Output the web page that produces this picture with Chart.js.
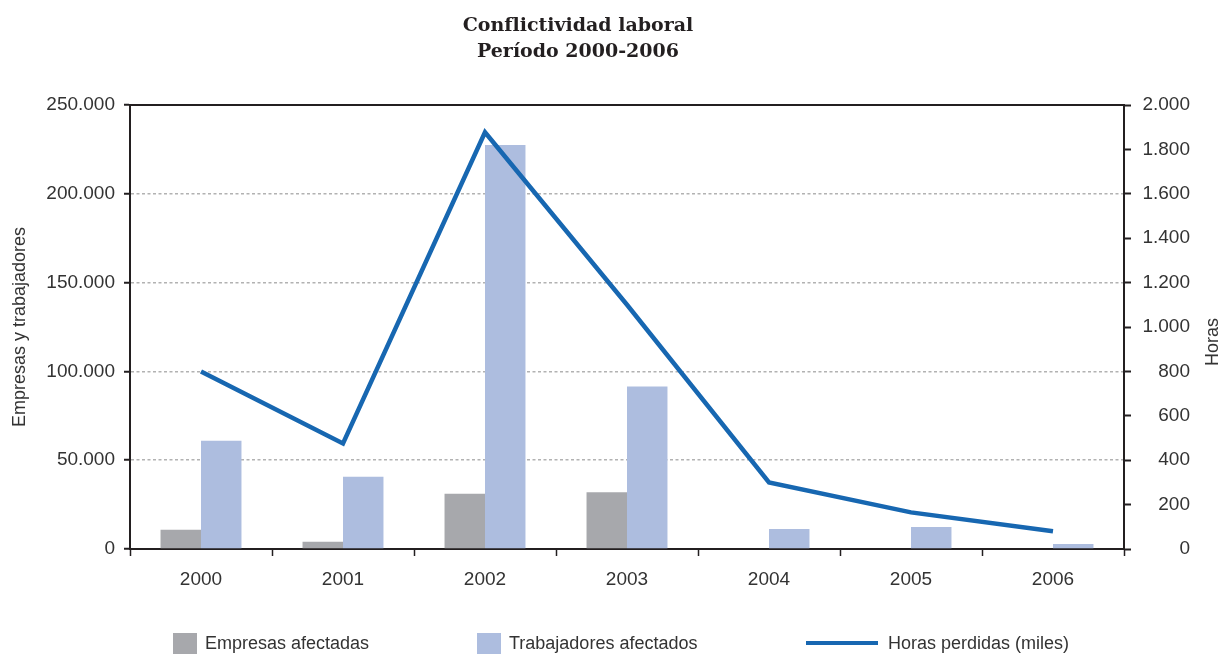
<!DOCTYPE html>
<html lang="es">
<head>
<meta charset="utf-8">
<title>Conflictividad laboral</title>
<script src="https://cdn.jsdelivr.net/npm/chart.js@4.4.1/dist/chart.umd.min.js"></script>
<style>
  html, body { margin: 0; padding: 0; background: #fff; }
  #wrap { width: 1225px; height: 654px; }
</style>
</head>
<body>
<div id="wrap"><canvas id="conflictChart" width="1225" height="654"></canvas></div>
<script>
// --- datos del gráfico ---
const YEARS = ['2000', '2001', '2002', '2003', '2004', '2005', '2006'];
const EMPRESAS = [10900, 4100, 31100, 31900, 0, 0, 0];
const TRABAJADORES = [61000, 40700, 227500, 91500, 11300, 12400, 2800];
const HORAS = [800, 475, 1877, 1100, 300, 165, 80];

const LEFT_TICKS = [0, 50000, 100000, 150000, 200000, 250000];
const RIGHT_TICKS = [0, 200, 400, 600, 800, 1000, 1200, 1400, 1600, 1800, 2000];

const TITLE_LINES = ['Conflictividad laboral', 'Período 2000-2006'];
const LEFT_TITLE = 'Empresas y trabajadores';
const RIGHT_TITLE = 'Horas';

// --- estilos ---
const AXIS_COLOR = '#231f20';
const TEXT_COLOR = '#333333';
const GRID_COLOR = '#b2b2b2';
const GRAY_BAR = '#a7a8ac';
const BLUE_BAR = '#adbddf';
const LINE_BLUE = '#1767b1';
const SANS = '"Liberation Sans", Arial, sans-serif';

function formatThousands(v) {
    return String(v).replace(/\B(?=(\d{3})+(?!\d))/g, '.');
}

// --- título, borde superior, título derecho y leyenda ---
const decorPlugin = {
    id: 'decor',
    afterDraw(chart) {
        const ctx = chart.ctx;
        const area = chart.chartArea;
        ctx.save();

        ctx.strokeStyle = AXIS_COLOR;
        ctx.lineWidth = 2;
        ctx.beginPath();
        ctx.moveTo(area.left - 1, area.top);
        ctx.lineTo(area.right + 1, area.top);
        ctx.stroke();

        ctx.fillStyle = AXIS_COLOR;
        ctx.font = 'bold 19px "DejaVu Serif", serif';
        ctx.textAlign = 'center';
        ctx.textBaseline = 'alphabetic';
        TITLE_LINES.forEach((t, i) => ctx.fillText(t, 578, 31 + i * 26));

        ctx.save();
        ctx.translate(1213, 342);
        ctx.rotate(-Math.PI / 2);
        ctx.fillStyle = TEXT_COLOR;
        ctx.font = '18px ' + SANS;
        ctx.textBaseline = 'middle';
        ctx.fillText(RIGHT_TITLE, 0, 0);
        ctx.restore();

        // leyenda
        const legendX = [173, 477, 806];
        const legendY = 644;
        ctx.font = '18px ' + SANS;
        ctx.textAlign = 'left';
        ctx.textBaseline = 'middle';
        chart.data.datasets.forEach((ds, i) => {
            const x = legendX[i];
            let textX;
            if (ds.type === 'line') {
                ctx.strokeStyle = ds.borderColor;
                ctx.lineWidth = 4;
                ctx.beginPath();
                ctx.moveTo(x, legendY - 1);
                ctx.lineTo(x + 72, legendY - 1);
                ctx.stroke();
                textX = x + 82;
            } else {
                ctx.fillStyle = ds.backgroundColor;
                ctx.fillRect(x, legendY - 11, 24, 24);
                textX = x + 32;
            }
            ctx.fillStyle = TEXT_COLOR;
            ctx.fillText(ds.label, textX, legendY);
        });
        ctx.restore();
    }
};

const ctx = document.getElementById('conflictChart').getContext('2d');
new Chart(ctx, {
    data: {
        labels: YEARS,
        datasets: [
            { type: 'bar', label: 'Empresas afectadas', data: EMPRESAS, backgroundColor: GRAY_BAR, yAxisID: 'y', order: 2 },
            { type: 'bar', label: 'Trabajadores afectados', data: TRABAJADORES, backgroundColor: BLUE_BAR, yAxisID: 'y', order: 2 },
            {
                type: 'line', label: 'Horas perdidas (miles)', data: HORAS, yAxisID: 'y1', order: 0,
                borderColor: LINE_BLUE, backgroundColor: LINE_BLUE, borderWidth: 4.5,
                pointRadius: 0, tension: 0, borderJoinStyle: 'miter'
            }
        ]
    },
    options: {
        responsive: false,
        animation: false,
        layout: { padding: { top: 105, left: 0, right: 35, bottom: 0 } },
        datasets: { bar: { categoryPercentage: 0.57, barPercentage: 1.0 } },
        plugins: {
            legend: { display: false },
            title: { display: false },
            tooltip: { enabled: false }
        },
        scales: {
            x: {
                afterFit: s => { s.height = 105; },
                grid: { drawOnChartArea: false, tickLength: 7, tickColor: AXIS_COLOR, tickWidth: 1.5 },
                border: { color: AXIS_COLOR, width: 2 },
                ticks: { color: TEXT_COLOR, font: { family: SANS, size: 19 }, padding: 12 }
            },
            y: {
                position: 'left',
                min: 0, max: 250000,
                afterFit: s => { s.width = 130; },
                afterBuildTicks: s => { s.ticks = LEFT_TICKS.map(v => ({ value: v })); },
                grid: {
                    color: c => (c.tick && (c.tick.value === 0 || c.tick.value === 250000)) ? 'rgba(0,0,0,0)' : GRID_COLOR,
                    lineWidth: 1.5,
                    tickLength: 6, tickColor: AXIS_COLOR, tickWidth: 2
                },
                border: { color: AXIS_COLOR, width: 2, dash: [3, 2.5] },
                ticks: { color: TEXT_COLOR, font: { family: SANS, size: 19 }, padding: 9, callback: v => formatThousands(v) },
                title: { display: true, text: LEFT_TITLE, color: TEXT_COLOR, font: { family: SANS, size: 18 }, padding: { top: 9 } }
            },
            y1: {
                position: 'right',
                min: 0, max: 2000,
                afterFit: s => { s.width = 66; },
                afterBuildTicks: s => { s.ticks = RIGHT_TICKS.map(v => ({ value: v })); },
                grid: { drawOnChartArea: false, tickLength: 7, tickColor: AXIS_COLOR, tickWidth: 2 },
                border: { color: AXIS_COLOR, width: 2 },
                ticks: { color: TEXT_COLOR, font: { family: SANS, size: 19 }, padding: 8, crossAlign: 'far', callback: v => formatThousands(v) }
            }
        }
    },
    plugins: [decorPlugin]
});
</script>
</body>
</html>
